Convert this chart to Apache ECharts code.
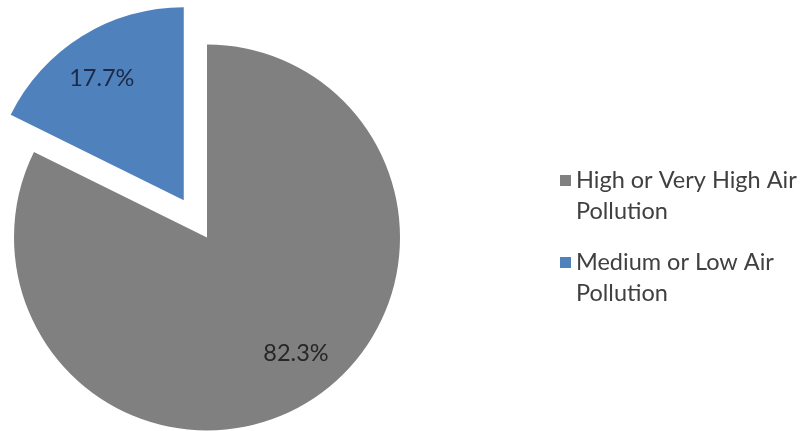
<!DOCTYPE html>
<html>
<head>
<meta charset="utf-8">
<style>
  html, body { margin: 0; padding: 0; background: #ffffff; }
  #chart { width: 801px; height: 431px; }
</style>
<script src="https://cdn.jsdelivr.net/npm/echarts@6/dist/echarts.min.js"></script>
</head>
<body>
<div id="chart"></div>
<script>
// Share of population by air pollution exposure level (%)
const categories = ['High or Very High Air Pollution', 'Medium or Low Air Pollution'];
const shares = [82.3, 17.7];
const sliceColors = ['#808080', '#4f81bd'];
const labelColors = ['#262626', '#1c2a48'];
// Small nudges of each percentage label away from the slice bisector
const labelNudge = [[11, -10], [-4, 4]];

const FONT = 'Lato, "Open Sans", sans-serif';
const CENTER = [207, 237.5];
const RADIUS = 193;
const EXPLODE = 44;

const pieData = categories.map((name, i) => ({
  name,
  value: shares[i],
  selected: i === 1,
  itemStyle: { color: sliceColors[i] }
}));

// Transparent twin of the pie, wider, so its "inside" labels sit
// at ~3/4 of the visible radius.
const labelData = categories.map((name, i) => ({
  name,
  value: shares[i],
  selected: i === 1,
  itemStyle: { color: 'rgba(0,0,0,0)' },
  label: { color: labelColors[i] }
}));

const chart = echarts.init(document.getElementById('chart'), null, { renderer: 'canvas' });

chart.setOption({
  animation: false,
  backgroundColor: '#ffffff',
  legend: {
    orient: 'vertical',
    left: 555,
    top: 129,
    padding: 5,
    itemWidth: 11,
    itemHeight: 11,
    itemGap: -11,
    icon: 'rect',
    selectedMode: false,
    data: categories,
    // leading blank line keeps the marker level with the first text line
    formatter: (name) => '\n' + name.replace(' Pollution', '\nPollution'),
    textStyle: {
      fontFamily: FONT,
      fontSize: 23.5,
      lineHeight: 31,
      color: '#404040'
    }
  },
  series: [
    {
      type: 'pie',
      center: CENTER,
      radius: [0, RADIUS],
      startAngle: 90,
      clockwise: true,
      selectedMode: 'single',
      selectedOffset: EXPLODE,
      silent: true,
      label: { show: false },
      labelLine: { show: false },
      itemStyle: { borderWidth: 0 },
      emphasis: { disabled: true },
      data: pieData
    },
    {
      type: 'pie',
      center: CENTER,
      radius: [0, RADIUS * 1.5],
      startAngle: 90,
      clockwise: true,
      selectedMode: 'single',
      selectedOffset: EXPLODE,
      silent: true,
      legendHoverLink: false,
      label: {
        show: true,
        position: 'inside',
        fontFamily: FONT,
        fontSize: 23.5,
        formatter: (p) => p.value.toFixed(1) + '%'
      },
      labelLayout: (p) => ({ dx: labelNudge[p.dataIndex][0], dy: labelNudge[p.dataIndex][1] }),
      labelLine: { show: false },
      itemStyle: { borderWidth: 0 },
      emphasis: { disabled: true },
      data: labelData
    }
  ]
});
</script>
</body>
</html>
